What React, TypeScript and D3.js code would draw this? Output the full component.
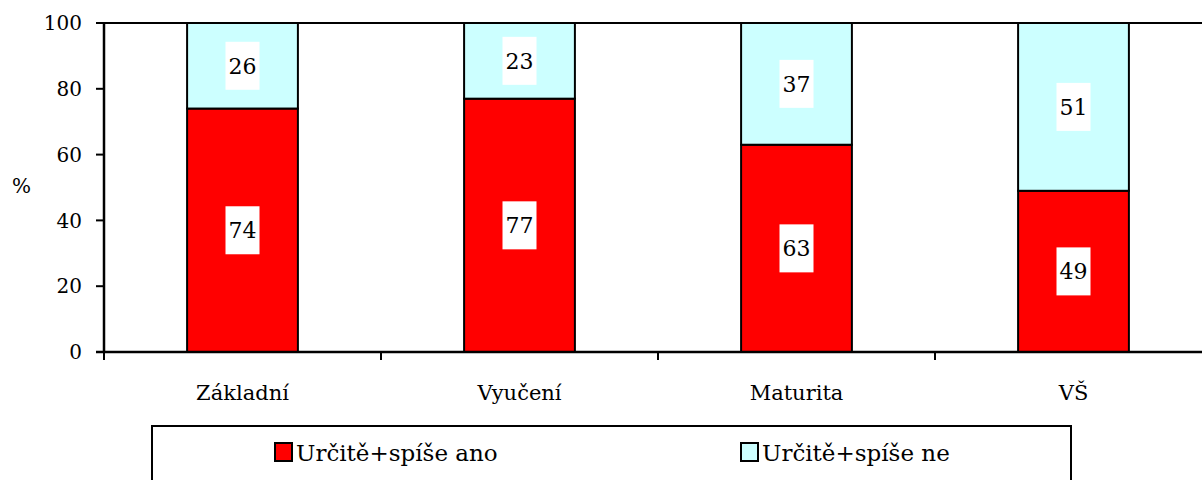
import React from "react";
import * as d3 from "d3";

const categories = ["Základní", "Vyučení", "Maturita", "VŠ"];
const seriesNames = ["Určitě+spíše ano", "Určitě+spíše ne"];
const yesValues = [74, 77, 63, 49];
const noValues = [26, 23, 37, 51];
const yTicks = [0, 20, 40, 60, 80, 100];
const colors = ["#FF0000", "#CCFFFF"];

const W = 1202;
const H = 480;
const FONT = '"DejaVu Serif", serif';
const ts: React.CSSProperties = { fontFamily: FONT };

export default function App() {
  const left = 104;
  const catW = 277;
  const x = d3
    .scaleBand<string>()
    .domain(categories)
    .range([left, left + catW * categories.length])
    .paddingInner(0.6)
    .paddingOuter(0.3);
  const y = d3.scaleLinear().domain([0, 100]).range([352, 23]);

  const stacks = categories.map((c, i) => {
    const a = yesValues[i];
    const b = noValues[i];
    return [
      { cat: c, y0: 0, y1: a, v: a, color: colors[0] },
      { cat: c, y0: a, y1: a + b, v: b, color: colors[1] },
    ];
  });

  const boundaries = d3.range(categories.length + 1).map((i) => left + catW * i);

  return (
    <svg
      width={W}
      height={H}
      style={{ position: "absolute", left: 0, top: 0, background: "#fff", fontFamily: FONT }}
    >
      {stacks.map((segs, i) =>
        segs.map((s, j) => (
          <rect
            key={`${i}-${j}`}
            x={x(s.cat)!}
            width={x.bandwidth()}
            y={y(s.y1)}
            height={y(s.y0) - y(s.y1)}
            fill={s.color}
            stroke="#000"
            strokeWidth={2}
          />
        ))
      )}
      <line x1={left} x2={W} y1={y(100)} y2={y(100)} stroke="#000" strokeWidth={2} />
      <line x1={left} x2={left} y1={y(100)} y2={y(0)} stroke="#000" strokeWidth={2.5} />
      <line x1={left - 8} x2={W} y1={y(0)} y2={y(0)} stroke="#000" strokeWidth={2.5} />
      {yTicks.map((t) => (
        <g key={t}>
          <line x1={left - 8} x2={left} y1={y(t)} y2={y(t)} stroke="#000" strokeWidth={2} />
          <text x={82} y={y(t)} dy="0.36em" textAnchor="end" fontSize={20} fill="#000" style={ts}>
            {t}
          </text>
        </g>
      ))}
      {boundaries.map((b, i) => (
        <line key={i} x1={b} x2={b} y1={y(0)} y2={y(0) + 8} stroke="#000" strokeWidth={2} />
      ))}
      <text x={12} y={193} fontSize={20} fill="#000" style={ts}>%</text>
      {categories.map((c) => (
        <text
          key={c}
          x={x(c)! + x.bandwidth() / 2}
          y={400}
          textAnchor="middle"
          fontSize={21}
          fill="#000"
          style={ts}
        >
          {c}
        </text>
      ))}
      {stacks.map((segs, i) =>
        segs.map((s, j) => {
          const cx = x(s.cat)! + x.bandwidth() / 2;
          const cy = y((s.y0 + s.y1) / 2);
          return (
            <g key={`l-${i}-${j}`}>
              <rect x={cx - 17} y={cy - 24} width={34} height={48} fill="#fff" />
              <text x={cx} y={cy} dy="0.36em" textAnchor="middle" fontSize={22} fill="#000" style={ts}>
                {s.v}
              </text>
            </g>
          );
        })
      )}
      <rect x={152} y={426} width={919} height={70} fill="#fff" stroke="#000" strokeWidth={2} />
      {seriesNames.map((n, i) => {
        const lx = [275, 741][i];
        return (
          <g key={n}>
            <rect x={lx} y={443} width={17} height={18} fill={colors[i]} stroke="#000" strokeWidth={2} />
            <text x={lx + 21} y={461} fontSize={23} fill="#000" style={ts}>
              {n}
            </text>
          </g>
        );
      })}
    </svg>
  );
}
